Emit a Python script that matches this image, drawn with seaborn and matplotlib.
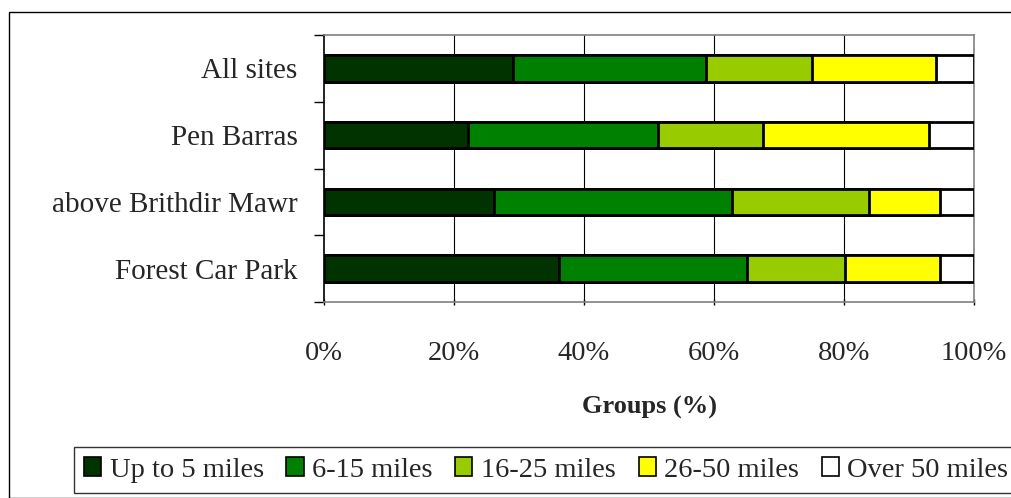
import matplotlib
matplotlib.use("Agg")
import matplotlib.pyplot as plt
import matplotlib.patches as mpatches
import seaborn as sns
import pandas as pd
import numpy as np

sites = ["All sites", "Pen Barras", "above Brithdir Mawr", "Forest Car Park"]
series_names = ["Up to 5 miles", "6-15 miles", "16-25 miles", "26-50 miles", "Over 50 miles"]
up_to_5 = [29.0, 22.1, 26.1, 36.1]
m6_15 = [29.8, 29.3, 36.7, 29.0]
m16_25 = [16.2, 16.2, 21.1, 15.1]
m26_50 = [19.1, 25.4, 10.9, 14.6]
over_50 = [5.9, 7.0, 5.2, 5.2]
colors = ["#003300", "#008000", "#99CC00", "#FFFF00", "#FFFFFF"]
x_ticks = [0, 20, 40, 60, 80, 100]
x_tick_labels = ["0%", "20%", "40%", "60%", "80%", "100%"]

sns.set_theme(style="white")
plt.rcParams["font.family"] = ["Liberation Serif", "DejaVu Serif"]

values = np.array([up_to_5, m6_15, m16_25, m26_50, over_50])
cum = np.cumsum(values, axis=0)

fig = plt.figure(figsize=(10.12, 4.98), dpi=100)
ax = fig.add_axes([324 / 1012, 1 - 302 / 498, 650 / 1012, 267 / 498])

for i in range(len(series_names) - 1, -1, -1):
    df = pd.DataFrame({"site": sites, "val": cum[i]})
    sns.barplot(data=df, x="val", y="site", color=colors[i], saturation=1,
                edgecolor="black", linewidth=2, width=0.4, ax=ax, zorder=3)

FS = 20.5
ax.set_xlim(0, 100)
ax.set_ylim(3.5, -0.5)
ax.set_xticks(x_ticks)
ax.set_xticklabels(x_tick_labels, fontsize=FS)
ax.set_yticks(range(len(sites)))
ax.set_yticklabels(sites, fontsize=21)
ax.set_yticks(np.arange(-0.5, 3.6, 1), minor=True)
ax.tick_params(axis="y", which="major", length=0, pad=19)
ax.tick_params(axis="y", which="minor", length=7, width=1, color="black", left=True, direction="out")
ax.tick_params(axis="x", which="major", length=4, width=1, color="black", bottom=True, direction="inout", pad=26)
ax.set_xlabel("")
ax.set_ylabel("")
for xv in [20, 40, 60, 80]:
    ax.axvline(xv, color="black", linewidth=0.8, zorder=1)
for side in ["top", "right", "bottom"]:
    ax.spines[side].set_color("#808080")
    ax.spines[side].set_linewidth(1.2)
ax.spines["left"].set_color("black")
ax.spines["left"].set_linewidth(1.2)
for s in ax.spines.values():
    s.set_visible(True)

fig.text(650 / 1012, 1 - 407 / 498, "Groups (%)", ha="center", va="center",
         fontsize=19, fontweight="bold")

handles = [mpatches.Patch(facecolor=c, edgecolor="black", linewidth=1.2) for c in colors]
leg = fig.legend(handles, series_names, loc="center left", ncol=5,
                 bbox_to_anchor=(74 / 1012, 1 - 470 / 498), fontsize=FS,
                 frameon=True, fancybox=False, edgecolor="black",
                 handlelength=0.6, handleheight=0.6, handletextpad=0.3,
                 columnspacing=0.8, borderpad=0.35, borderaxespad=0)
leg.get_frame().set_linewidth(1.0)

border = mpatches.Rectangle((9 / 1012, 0.0), 1.0, 1 - 12 / 498 - 0.0,
                            transform=fig.transFigure, fill=False,
                            edgecolor="black", linewidth=1.0)
fig.patches.append(border)

fig.savefig("out.png", dpi=100)
